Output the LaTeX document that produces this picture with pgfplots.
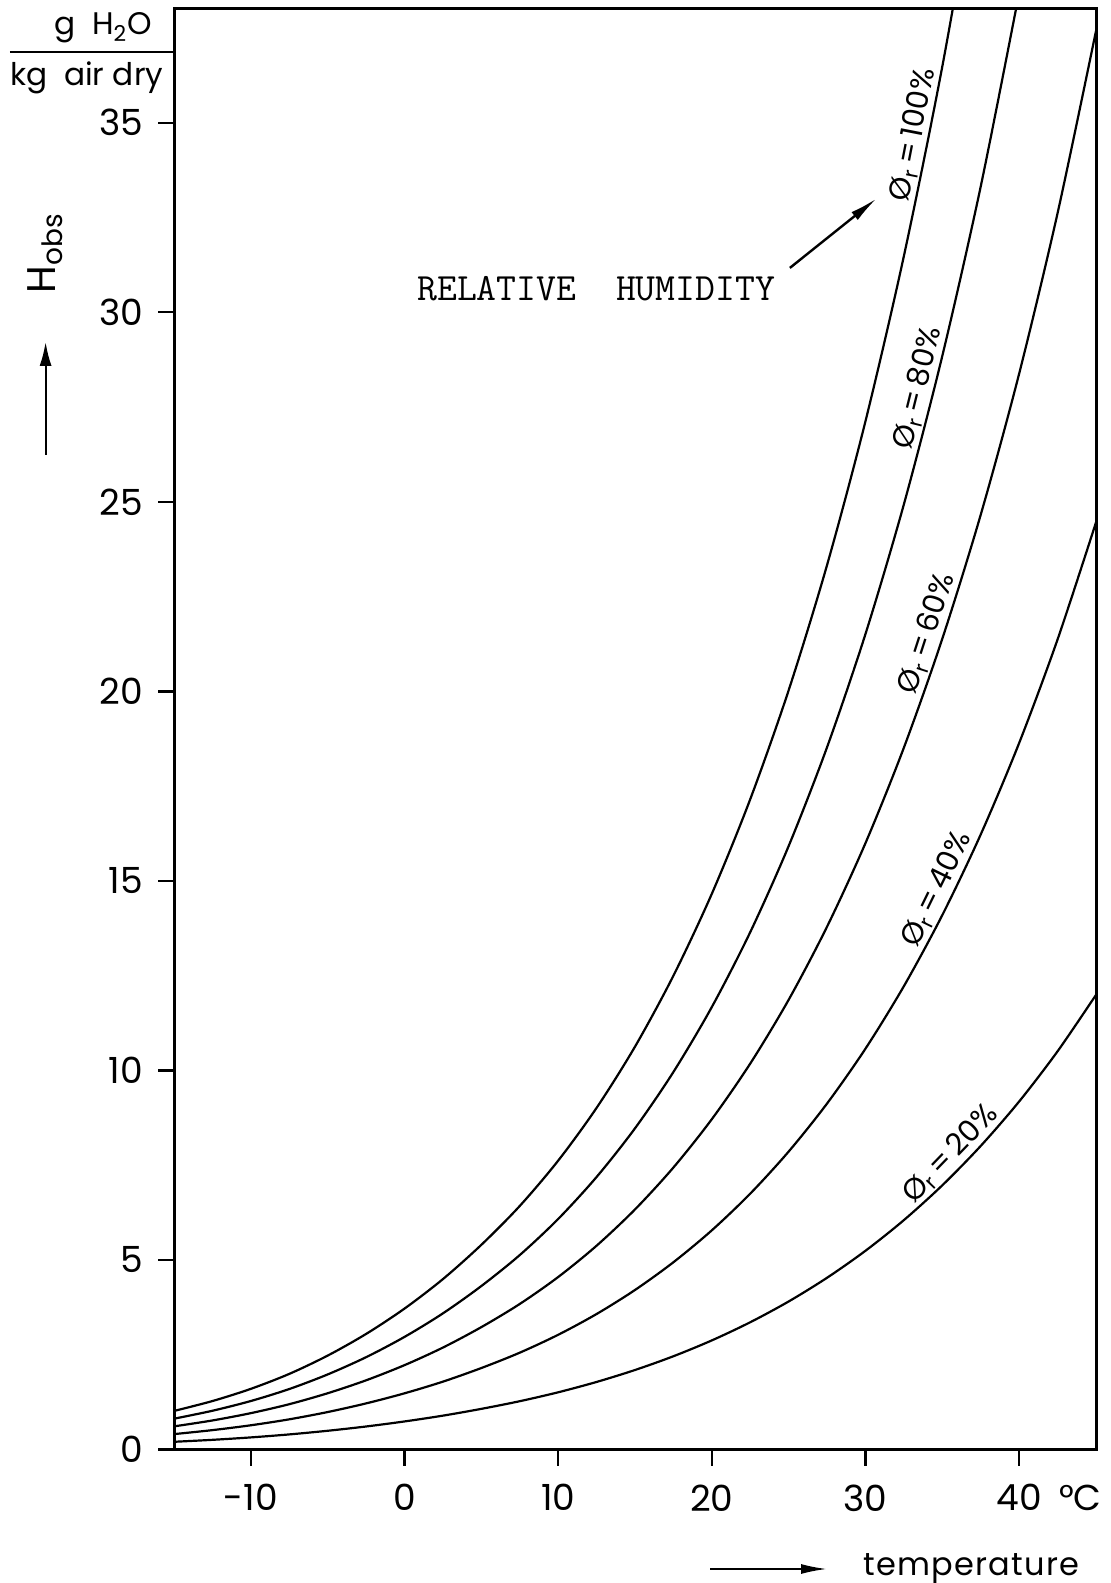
\documentclass[border=0pt]{standalone}
\usepackage{fontspec}
\setmainfont{Poppins}
\usepackage{pgfplots}
\pgfplotsset{compat=1.18}
\usetikzlibrary{arrows.meta}

\begin{document}
\begin{tikzpicture}
\begin{axis}[
  name=ax,
  scale only axis,
  width=461pt, height=720.25pt,
  xmin=-15, xmax=45, ymin=0, ymax=38,
  xtick={-10,0,10,20,30,40},
  xticklabels={-10,0,10,20,30,40},
  ytick={0,5,10,15,20,25,30,35},
  yticklabels={0,5,10,15,20,25,30,35},
  tick pos=left,
  tick align=outside,
  major tick length=8pt,
  every tick/.style={black, line width=1.2pt},
  axis line style={line width=1.5pt},
  tick label style={font=\fontsize{18}{20}\selectfont},
  xticklabel style={yshift=-6pt},
  yticklabel style={xshift=-4pt},
  clip mode=individual,
]
% phi_r = 100 %
\addplot[black, line width=1.1pt, smooth] coordinates {
(-15,1.017) (-12.5,1.278) (-10,1.600) (-7.5,1.994) (-5,2.477) (-2.5,3.048)
(0,3.717) (2.5,4.495) (5,5.399) (7.5,6.424) (10,7.620) (12.5,9.012)
(15,10.627) (17.5,12.499) (20,14.660) (22.5,17.155) (25,20.029) (27.5,23.334)
(30,27.129) (32.5,31.487) (35,36.487) (37.5,42.217)
};
% phi_r = 80 %
\addplot[black, line width=1.1pt, smooth] coordinates {
(-15,0.813) (-12.5,1.022) (-10,1.279) (-7.5,1.595) (-5,1.980) (-2.5,2.435)
(0,2.970) (2.5,3.591) (5,4.312) (7.5,5.129) (10,6.081) (12.5,7.189)
(15,8.473) (17.5,9.959) (20,11.673) (22.5,13.648) (25,15.920) (27.5,18.528)
(30,21.515) (32.5,24.937) (35,28.851) (37.5,33.321) (40,38.427)
};
% phi_r = 60 %
\addplot[black, line width=1.1pt, smooth] coordinates {
(-15,0.610) (-12.5,0.766) (-10,0.959) (-7.5,1.195) (-5,1.484) (-2.5,1.825)
(0,2.225) (2.5,2.689) (5,3.228) (7.5,3.839) (10,4.550) (12.5,5.376)
(15,6.333) (17.5,7.439) (20,8.714) (22.5,10.181) (25,11.864) (27.5,13.794)
(30,15.998) (32.5,18.517) (35,21.390) (37.5,24.661) (40,28.382) (42.5,32.615) (45,37.422)
};
% phi_r = 40 %
\addplot[black, line width=1.1pt, smooth] coordinates {
(-15,0.406) (-12.5,0.511) (-10,0.639) (-7.5,0.796) (-5,0.988) (-2.5,1.216)
(0,1.482) (2.5,1.790) (5,2.149) (7.5,2.554) (10,3.026) (12.5,3.574)
(15,4.208) (17.5,4.940) (20,5.782) (22.5,6.750) (25,7.860) (27.5,9.128)
(30,10.575) (32.5,12.224) (35,14.099) (37.5,16.226) (40,18.638) (42.5,21.370) (45,24.457)
};
% phi_r = 20 %
\addplot[black, line width=1.1pt, smooth] coordinates {
(-15,0.203) (-12.5,0.255) (-10,0.319) (-7.5,0.398) (-5,0.494) (-2.5,0.607)
(0,0.740) (2.5,0.893) (5,1.072) (7.5,1.274) (10,1.509) (12.5,1.782)
(15,2.097) (17.5,2.460) (20,2.878) (22.5,3.357) (25,3.905) (27.5,4.531)
(30,5.243) (32.5,6.052) (35,6.970) (37.5,8.009) (40,9.181) (42.5,10.505) (45,11.993)
};

% curve labels
\begin{scope}[every node/.style={font=\fontsize{15}{17}\selectfont, inner sep=1.5pt, anchor=south}]
\node[rotate=79] at (axis cs:34.15,34.6) {Ø\textsubscript{r}\,=\,100\%};
\node[rotate=76] at (axis cs:34.45,27.9) {Ø\textsubscript{r}\,=\,80\%};
\node[rotate=72] at (axis cs:35.0,21.4) {Ø\textsubscript{r}\,=\,60\%};
\node[rotate=64] at (axis cs:35.6,14.6) {Ø\textsubscript{r}\,=\,40\%};
\node[rotate=46] at (axis cs:36.3,7.5) {Ø\textsubscript{r}\,=\,20\%};
\end{scope}

\node[anchor=base west, inner sep=0, font=\ttfamily\fontsize{19.3}{21}\selectfont]
  at (axis cs:0.81,30.31) {RELATIVE\ \ HUMIDITY};
\draw[line width=1.2pt, -{Latex[length=14pt,width=5pt]}]
  (axis cs:25.08,31.17) -- (axis cs:30.72,33.0);
\end{axis}

\begin{scope}[shift={(ax.south west)}]
  \draw[line width=1pt] (-82pt,698.75pt) -- (0pt,698.75pt);
  \node[anchor=base, inner sep=0, font=\fontsize{15.6}{17}\selectfont]
    at (-35.5pt,707.25pt) {g\ \ H\textsubscript{2}O};
  \node[anchor=base west, inner sep=0, font=\fontsize{15.6}{17}\selectfont]
    at (-82pt,681.75pt) {kg\ \ air dry};
  \node[rotate=90, inner sep=0, font=\fontsize{20}{22}\selectfont]
    at (-64.5pt,598.25pt) {H\textsubscript{obs}};
  \draw[line width=1pt, -{Latex[length=12pt,width=6pt]}]
    (-64.2pt,497.25pt) -- (-64.2pt,553.75pt);
  \node[anchor=base west, inner sep=0, font=\fontsize{16}{18}\selectfont]
    at (344.5pt,-62.75pt) {\addfontfeature{LetterSpace=4}temperature};
  \draw[line width=1pt, -{Latex[length=13pt,width=5pt]}]
    (268pt,-59.75pt) -- (326.5pt,-59.75pt);
  \node[anchor=north east, inner sep=0, font=\fontsize{18}{20}\selectfont]
    at (464pt,-17.75pt) {°C};
  \pgfresetboundingbox
  \useasboundingbox (-87pt,-66.75pt) rectangle (468.5pt,724.75pt);
\end{scope}
\end{tikzpicture}
\end{document}
